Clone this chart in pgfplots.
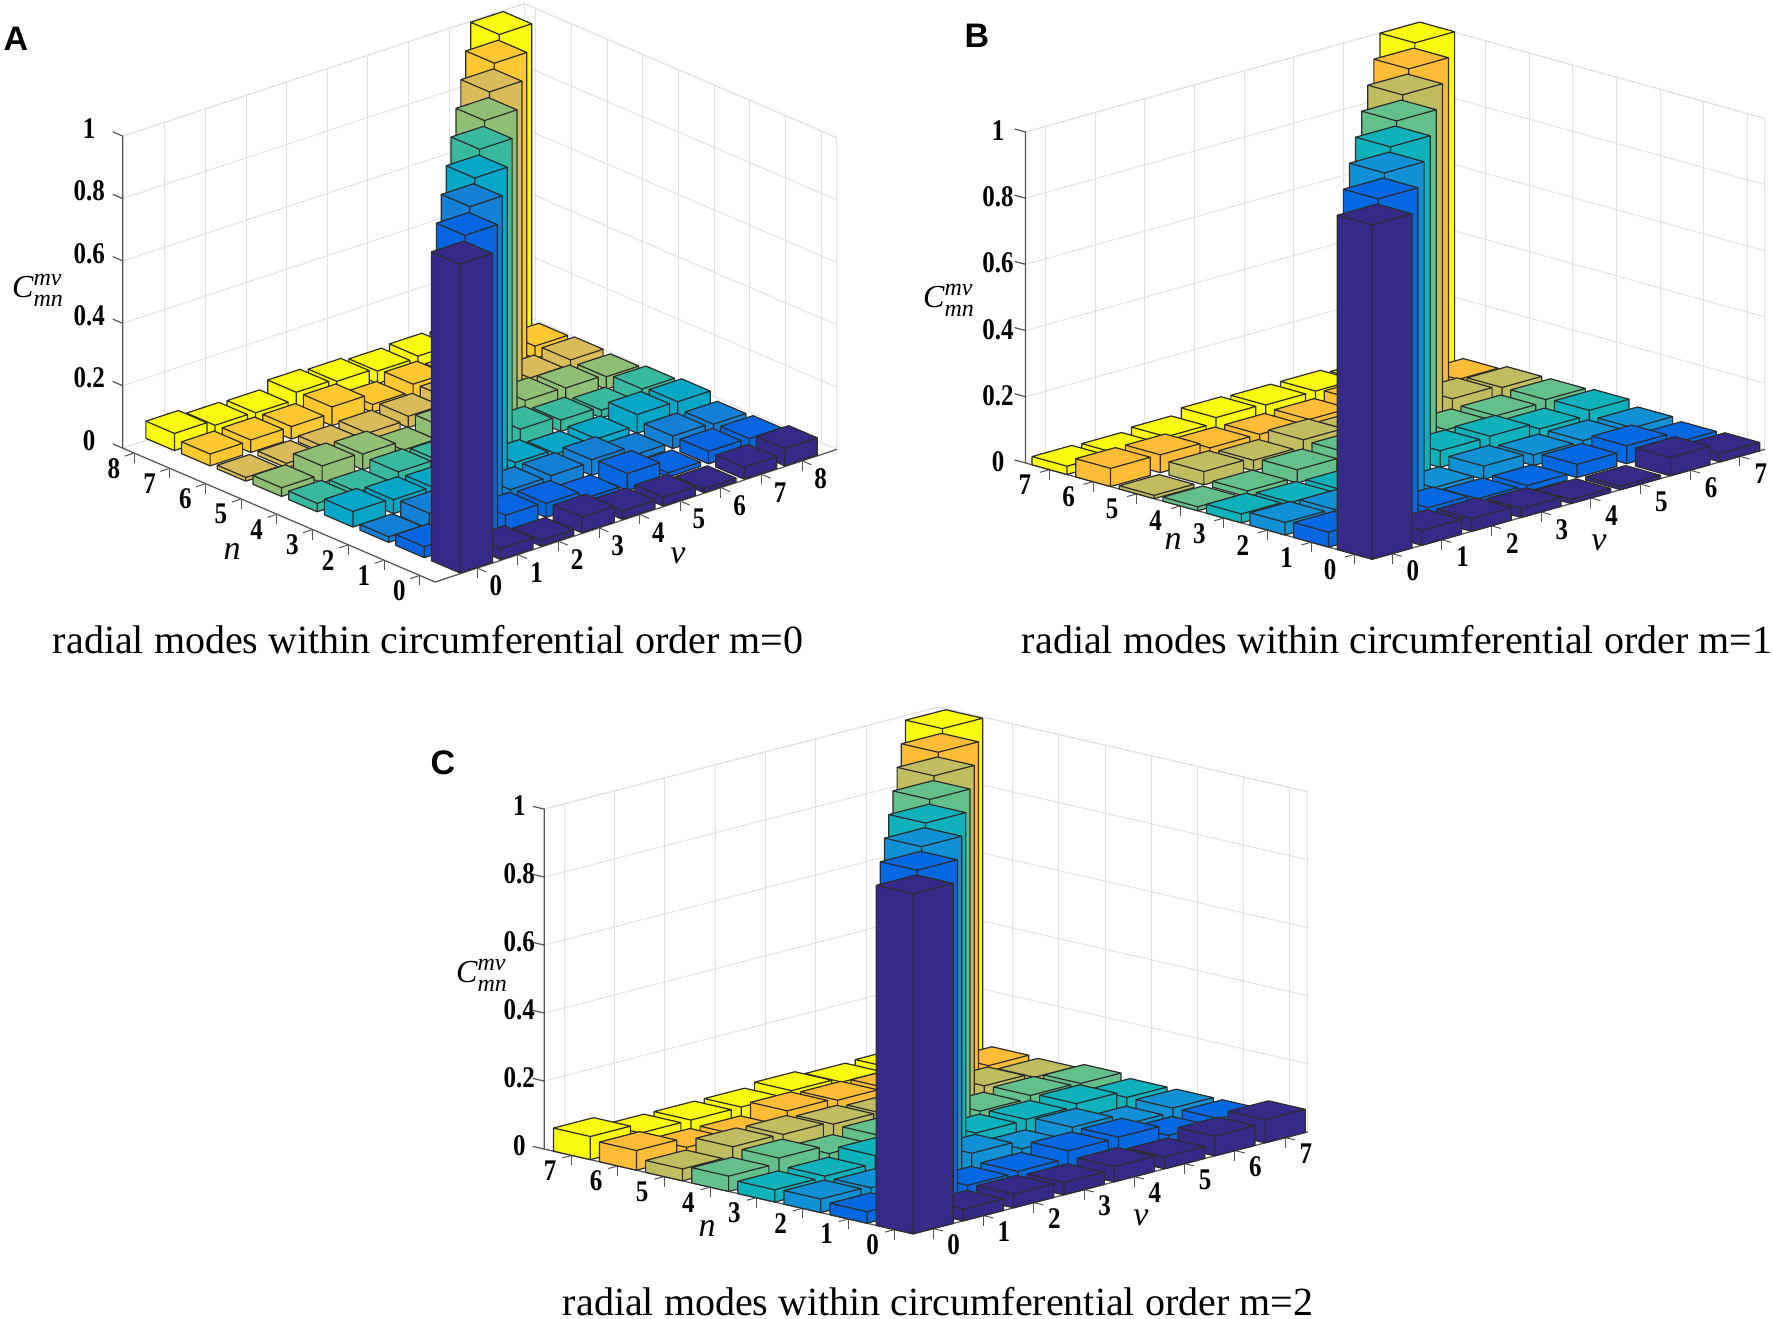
\documentclass[border=0pt]{standalone}
\usepackage{amsmath}
\usepackage{fontspec}
\setmainfont{Liberation Serif}
\newfontfamily\lettersf{Liberation Sans}
\usepackage{pgfplots}
\usepackage{pgfplotstable}
\pgfplotsset{compat=1.18}
\definecolor{ca0}{HTML}{352A87}\definecolor{ca1}{HTML}{0865E0}\definecolor{ca2}{HTML}{1380D6}
\definecolor{ca3}{HTML}{06A7C6}\definecolor{ca4}{HTML}{38B99E}\definecolor{ca5}{HTML}{8FBF75}
\definecolor{ca6}{HTML}{D9BB59}\definecolor{ca7}{HTML}{FEC832}\definecolor{ca8}{HTML}{F9FB0E}
\definecolor{cb0}{HTML}{352A87}\definecolor{cb1}{HTML}{0668E0}\definecolor{cb2}{HTML}{1190D5}
\definecolor{cb3}{HTML}{0FB2BB}\definecolor{cb4}{HTML}{64C08B}\definecolor{cb5}{HTML}{C0BC60}
\definecolor{cb6}{HTML}{FFBC36}\definecolor{cb7}{HTML}{F9FB0E}
\definecolor{barline}{HTML}{2C2C2C}
\definecolor{wall}{HTML}{E2E2E2}
\definecolor{axln}{HTML}{555555}

\pgfplotstableread{
c0 c1 c2 c3 c4 c5 c6 c7 c8
0.99 0.035 0.018 0.05 0.027 0.028 0.012 0.038 0.055
0.035 0.99 0.05 0.045 0.02 0.055 0.014 0.04 0.038
0.018 0.05 0.99 0.04 0.042 0.05 0.02 0.04 0.035
0.05 0.045 0.04 0.99 0.035 0.02 0.025 0.06 0.058
0.027 0.02 0.042 0.035 0.99 0.05 0.036 0.025 0.05
0.028 0.055 0.05 0.02 0.05 0.99 0.05 0.047 0.04
0.012 0.014 0.02 0.025 0.036 0.05 0.99 0.03 0.045
0.038 0.04 0.04 0.06 0.025 0.047 0.03 0.99 0.04
0.055 0.038 0.035 0.058 0.05 0.04 0.045 0.04 0.99
}\tabA
\pgfplotstableread{
c0 c1 c2 c3 c4 c5 c6 c7
1.01 0.045 0.038 0.027 0.012 0.01 0.055 0.025
0.045 1.01 0.035 0.02 0.018 0.04 0.054 0.022
0.038 0.035 1.01 0.017 0.04 0.032 0.033 0.03
0.027 0.02 0.017 1.01 0.05 0.052 0.032 0.046
0.012 0.018 0.04 0.05 1.01 0.035 0.035 0.042
0.01 0.04 0.032 0.052 0.035 1.01 0.05 0.042
0.055 0.054 0.033 0.032 0.035 0.05 1.01 0.03
0.025 0.022 0.03 0.046 0.042 0.042 0.03 1.01
}\tabB
\pgfplotstableread{
c0 c1 c2 c3 c4 c5 c6 c7
1 0.034 0.04 0.036 0.045 0.035 0.058 0.068
0.034 1 0.035 0.038 0.06 0.062 0.029 0.04
0.04 0.035 1 0.06 0.035 0.06 0.028 0.04
0.036 0.038 0.06 1 0.05 0.052 0.06 0.04
0.045 0.06 0.035 0.05 1 0.045 0.053 0.05
0.035 0.062 0.06 0.052 0.045 1 0.05 0.037
0.058 0.029 0.028 0.06 0.053 0.05 1 0.04
0.068 0.04 0.04 0.04 0.05 0.037 0.04 1
}\tabC

% #1 table, #2 largest index, #3 largest index sum, #4 colour prefix
\newcommand\drawbars[4]{%
  \foreach \ss in {#3,...,0}{%
    \foreach \ii in {0,...,#2}{%
      \pgfmathtruncatemacro\jj{\ss-\ii}%
      \ifnum\jj<0 \else\ifnum\jj>#2 \else
        \pgfplotstablegetelem{\ii}{[index]\jj}\of{#1}%
        \let\hh\pgfplotsretval
        \pgfmathsetmacro\xa{\jj-0.4}\pgfmathsetmacro\xb{\jj+0.4}%
        \pgfmathsetmacro\ya{\ii-0.4}\pgfmathsetmacro\yb{\ii+0.4}%
        \edef\temp{\noexpand\addplot3[forget plot,no marks,fill=#4\ii,draw=barline,line width=0.6pt,line join=round] coordinates {
          (\xa,\ya,0) (\xb,\ya,0) (\xb,\ya,\hh) (\xa,\ya,\hh) (\xa,\ya,0)
          (\xa,\yb,0) (\xa,\yb,\hh) (\xa,\ya,\hh) (\xb,\ya,\hh) (\xb,\yb,\hh) (\xa,\yb,\hh) (\xa,\ya,\hh)};}%
        \temp
      \fi\fi
    }%
  }%
}
% floor + dark axis lines + z ticks: #1 xmin #2 xmax #3 ymin #4 ymax #5 ymax plus tick length
\newcommand\drawbase[5]{%
  \addplot3[forget plot,no marks,fill=white,draw=wall,line width=0.5pt] coordinates {(#1,#3,0) (#2,#3,0) (#2,#4,0) (#1,#4,0) (#1,#3,0)};
  \addplot3[forget plot,no marks,draw=axln,line width=0.6pt] coordinates {(#2,#3,0) (#1,#3,0) (#1,#4,0)
    (#1,#5,0) (#1,#4,0) (#1,#4,0.2) (#1,#5,0.2) (#1,#4,0.2) (#1,#4,0.4) (#1,#5,0.4) (#1,#4,0.4)
    (#1,#4,0.6) (#1,#5,0.6) (#1,#4,0.6) (#1,#4,0.8) (#1,#5,0.8) (#1,#4,0.8) (#1,#4,1) (#1,#5,1)};
}
\pgfplotsset{panel/.style={
  anchor=origin, disabledatascaling, clip=false,
  zmin=0, zmax=1,
  grid=major, grid style={draw=wall,line width=0.5pt},
  axis line style={draw=wall,line width=0.5pt},
  tick align=outside, major tick length=5pt,
  tick style={draw=axln,line width=0.5pt},
  xtick pos=lower, ytick pos=lower,
  z tick style={draw=none},
  ztick={0,0.2,0.4,0.6,0.8,1},
  zticklabels={0,0.2,0.4,0.6,0.8,1},
  zticklabel pos=left,
  ticklabel style={font=\fontsize{12.5}{13}\selectfont\bfseries,inner sep=0pt,anchor=center,transform shape,yscale=1.2},
}}
\begin{document}
\begin{tikzpicture}
\useasboundingbox (0,0) rectangle (886pt,659pt);
% ---------- A
\begin{axis}[panel, at={(231pt,378.25pt)},
  x={(20.3pt,6.7pt)}, y={(-17.85pt,7.65pt)}, z={(0pt,156pt)},
  xmin=-1.04, xmax=8.85, ymin=-0.43, ymax=8.32,
  xtick={0,1,2,3,4,5,6,7,8}, ytick={0,1,2,3,4,5,6,7,8},
  xticklabels={0,1,2,3,4,5,6,7,8}, yticklabels={0,1,2,3,4,5,6,7,8},
  xticklabel style={xshift=4.7pt,yshift=-5.9pt},
  yticklabel style={xshift=-5.4pt,yshift=-5.1pt},
  zticklabel style={xshift=-12.2pt,yshift=1.5pt}]
\drawbase{-1.04}{8.85}{-0.43}{8.32}{8.6}
\drawbars{\tabA}{8}{16}{ca}
\end{axis}
% ---------- B
\begin{axis}[panel, at={(687.3pt,384.6pt)},
  x={(24.85pt,6.95pt)}, y={(-21.8pt,6.05pt)}, z={(0pt,165.5pt)},
  xmin=-0.4, xmax=7.5, ymin=-0.4, ymax=7.55,
  xtick={0,1,2,3,4,5,6,7}, ytick={0,1,2,3,4,5,6,7},
  xticklabels={0,1,2,3,4,5,6,7}, yticklabels={0,1,2,3,4,5,6,7},
  xticklabel style={xshift=5.6pt,yshift=-6.1pt},
  yticklabel style={xshift=-7.5pt,yshift=-5.2pt},
  zticklabel style={xshift=-8.9pt,yshift=-0.6pt}]
\drawbase{-0.4}{7.5}{-0.4}{7.55}{7.8}
\drawbars{\tabB}{7}{14}{cb}
\end{axis}
% ---------- C
\begin{axis}[panel, at={(457.35pt,46.8pt)},
  x={(25.15pt,6.5pt)}, y={(-23.05pt,5.3pt)}, z={(0pt,170pt)},
  xmin=-0.4, xmax=7.45, ymin=-0.4, ymax=7.6,
  xtick={0,1,2,3,4,5,6,7}, ytick={0,1,2,3,4,5,6,7},
  xticklabels={0,1,2,3,4,5,6,7}, yticklabels={0,1,2,3,4,5,6,7},
  xticklabel style={xshift=5.4pt,yshift=-5.8pt},
  yticklabel style={xshift=-6.1pt,yshift=-5.2pt},
  zticklabel style={xshift=-7.6pt,yshift=0.6pt}]
\drawbase{-0.4}{7.45}{-0.4}{7.6}{7.85}
\drawbars{\tabC}{7}{14}{cb}
\end{axis}
% ---------- texts (pt = px/2, y flipped)
\newcommand\ttl{\fontsize{20}{22}\selectfont}
\newcommand\ax{\fontsize{17}{18}\selectfont\itshape}
\newcommand\cl{\fontsize{16}{17}\selectfont\textit{C}$^{\textit{\fontsize{12}{13}\selectfont mν}}_{\textit{\fontsize{12}{13}\selectfont mn}}$}
\node[font=\lettersf\bfseries\fontsize{17}{18}\selectfont] at (8pt,639.5pt) {A};
\node[font=\lettersf\bfseries\fontsize{17}{18}\selectfont] at (488.5pt,641pt) {B};
\node[font=\lettersf\bfseries\fontsize{17}{18}\selectfont] at (221.5pt,277.5pt) {C};
\node[font=\ttl] at (214pt,339pt) {radial modes within circumferential order m=0};
\node[font=\ttl] at (698.5pt,339pt) {radial modes within circumferential order m=1};
\node[font=\ttl] at (469pt,8pt) {radial modes within circumferential order m=2};
\node[font=\ax] at (116pt,383.5pt) {n};
\node[font=\ax] at (339pt,381pt) {ν};
\node at (19pt,514pt) {\cl};
\node[font=\ax] at (586.5pt,388.5pt) {n};
\node[font=\ax] at (799.5pt,387.5pt) {ν};
\node at (474.5pt,509pt) {\cl};
\node[font=\ax] at (353.5pt,45pt) {n};
\node[font=\ax] at (570.5pt,50pt) {ν};
\node at (241pt,171.5pt) {\cl};
\end{tikzpicture}
\end{document}
